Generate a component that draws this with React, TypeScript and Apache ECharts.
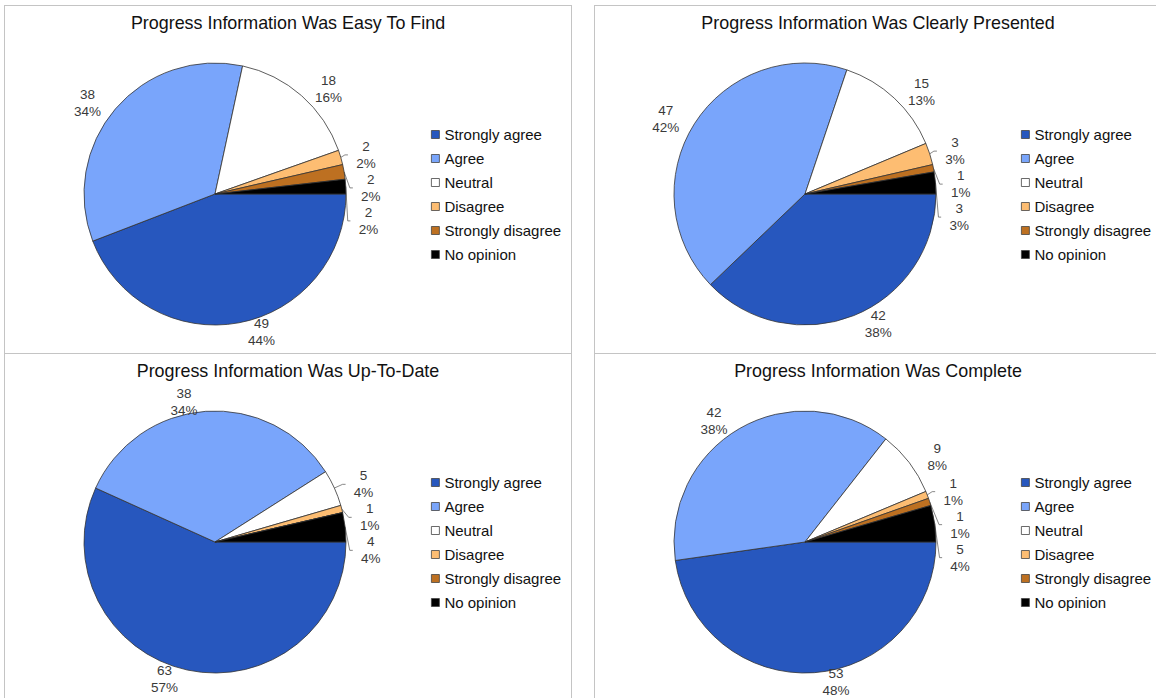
import React, { useEffect, useRef } from "react";
import * as echarts from "echarts";

const FONT = '"Liberation Sans", Helvetica, Arial, sans-serif';

const categories = [
  "Strongly agree",
  "Agree",
  "Neutral",
  "Disagree",
  "Strongly disagree",
  "No opinion",
];
const sliceColors = ["#2757BE", "#79A5FB", "#FFFFFF", "#FDBD72", "#BD7021", "#000000"];

const titleEasyToFind = "Progress Information Was Easy To Find";
const titleClearlyPresented = "Progress Information Was Clearly Presented";
const titleUpToDate = "Progress Information Was Up-To-Date";
const titleComplete = "Progress Information Was Complete";

const easyToFind = [49, 38, 18, 2, 2, 2];
const clearlyPresented = [42, 47, 15, 3, 1, 3];
const upToDate = [63, 38, 5, 1, 0, 4];
const complete = [53, 42, 9, 1, 1, 5];

function PiePanel({ title, values }: { title: string; values: number[] }) {
  const ref = useRef<HTMLDivElement>(null);
  useEffect(() => {
    if (!ref.current) return;
    const chart = echarts.init(ref.current, null, { renderer: "svg" });
    const total = values.reduce((a, b) => a + b, 0);
    const data = categories.map((name, i) => ({
      name,
      value: values[i],
      itemStyle: { color: sliceColors[i] },
      labelLine: { show: values[i] > 0 && values[i] / total < 0.06 },
    }));
    chart.setOption({
      animation: false,
      backgroundColor: "#ffffff",
      title: {
        text: title,
        left: "center",
        top: 3,
        textStyle: {
          fontSize: 17.9,
          fontWeight: "normal",
          color: "#111",
          fontFamily: FONT,
        },
      },
      legend: {
        orient: "vertical",
        left: 421,
        top: 116,
        itemWidth: 8,
        itemHeight: 8,
        itemGap: 9,
        icon: "rect",
        selectedMode: false,
        data: categories,
        itemStyle: { borderColor: "#444", borderWidth: 0.8 },
        textStyle: { fontSize: 15, color: "#111", fontFamily: FONT },
      },
      series: [
        {
          type: "pie",
          center: [210, 188],
          radius: 131,
          startAngle: 0,
          clockwise: true,
          percentPrecision: 0,
          minShowLabelAngle: 0.01,
          avoidLabelOverlap: true,
          itemStyle: { borderColor: "#333", borderWidth: 0.8 },
          emphasis: { disabled: true },
          label: {
            position: "outside",
            formatter: (p: any) =>
              p.value === 0 ? "" : `{v|${p.value}}\n{v|${p.percent}%}`,
            rich: {
              v: {
                width: 26,
                align: "center",
                fontSize: 13.5,
                lineHeight: 17,
                color: "#3a3a3a",
                fontFamily: FONT,
              },
            },
          },
          labelLine: {
            length: 9,
            length2: 3,
            lineStyle: { color: "#555", width: 0.7 },
          },
          data,
        },
      ],
    });
    return () => chart.dispose();
  }, [title, values]);
  return <div ref={ref} style={{ width: 566, height: 347 }} />;
}

const panels = [
  { left: 4, top: 5, title: titleEasyToFind, values: easyToFind },
  { left: 594, top: 5, title: titleClearlyPresented, values: clearlyPresented },
  { left: 4, top: 353, title: titleUpToDate, values: upToDate },
  { left: 594, top: 353, title: titleComplete, values: complete },
];

export default function App() {
  return (
    <div
      style={{
        position: "fixed",
        left: 0,
        top: 0,
        width: 1156,
        height: 698,
        overflow: "hidden",
        background: "#ffffff",
      }}
    >
      {panels.map((p, i) => (
        <div
          key={i}
          style={{
            position: "absolute",
            left: p.left,
            top: p.top,
            width: 568,
            height: 349,
            border: "1px solid #c4c4c4",
            boxSizing: "border-box",
            background: "#fff",
          }}
        >
          <PiePanel title={p.title} values={p.values} />
        </div>
      ))}
    </div>
  );
}
